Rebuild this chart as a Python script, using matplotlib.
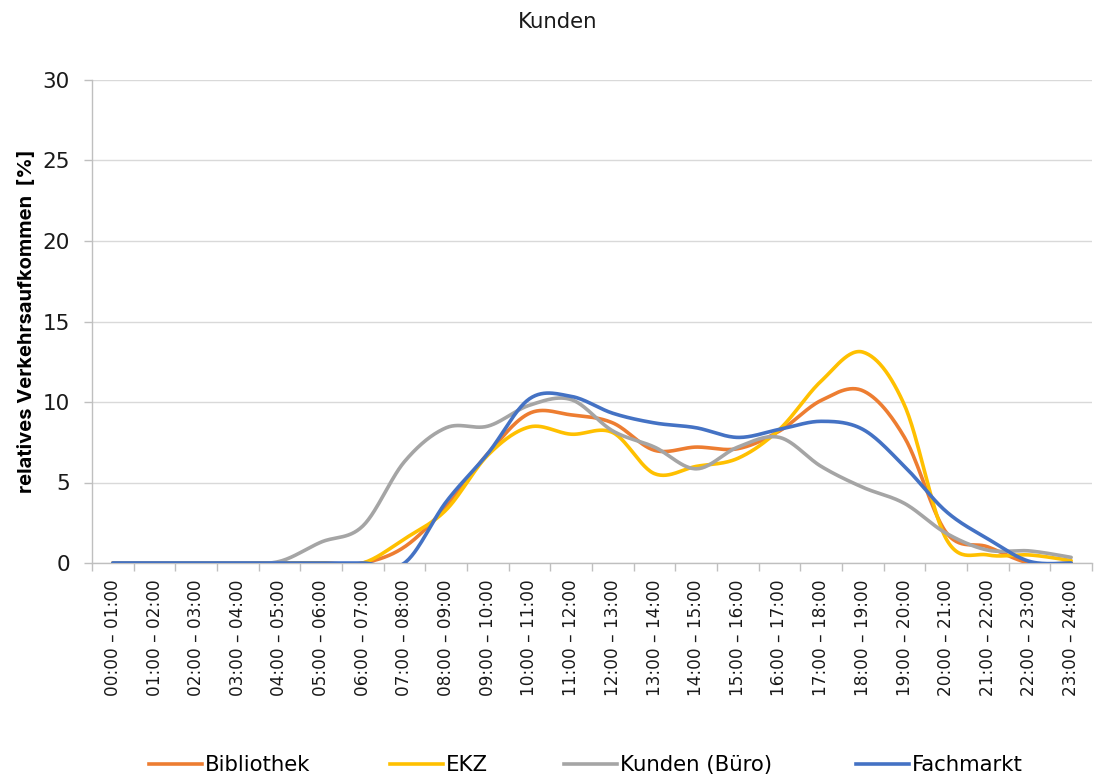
import numpy as np
import matplotlib
matplotlib.use("Agg")
import matplotlib.pyplot as plt
from matplotlib.lines import Line2D

categories = ["00:00 – 01:00", "01:00 – 02:00", "02:00 – 03:00", "03:00 – 04:00",
              "04:00 – 05:00", "05:00 – 06:00", "06:00 – 07:00", "07:00 – 08:00",
              "08:00 – 09:00", "09:00 – 10:00", "10:00 – 11:00", "11:00 – 12:00",
              "12:00 – 13:00", "13:00 – 14:00", "14:00 – 15:00", "15:00 – 16:00",
              "16:00 – 17:00", "17:00 – 18:00", "18:00 – 19:00", "19:00 – 20:00",
              "20:00 – 21:00", "21:00 – 22:00", "22:00 – 23:00", "23:00 – 24:00"]

bibliothek = [0, 0, 0, 0, 0, 0, 0, 1.0, 3.5, 6.8, 9.3, 9.2, 8.7, 7.0, 7.2, 7.1,
              8.2, 10.1, 10.7, 7.8, 1.9, 1.0, 0, 0]
ekz = [0, 0, 0, 0, 0, 0, 0, 1.5, 3.3, 6.7, 8.45, 8.0, 8.1, 5.55, 6.0, 6.5,
       8.3, 11.3, 13.1, 9.8, 1.5, 0.5, 0.5, 0.15]
kunden_buero = [0, 0, 0, 0, 0.1, 1.3, 2.3, 6.3, 8.4, 8.5, 9.8, 10.15, 8.2, 7.2, 5.85, 7.2,
                7.8, 6.0, 4.7, 3.7, 1.85, 0.8, 0.75, 0.35]
fachmarkt = [0, 0, 0, 0, 0, 0, 0, 0, 3.8, 6.8, 10.2, 10.35, 9.3, 8.7, 8.4, 7.8,
             8.3, 8.8, 8.3, 6.0, 3.2, 1.5, 0.1, 0]

series = [("Bibliothek", bibliothek, "#ED7D31"),
          ("EKZ", ekz, "#FFC000"),
          ("Kunden (Büro)", kunden_buero, "#A5A5A5"),
          ("Fachmarkt", fachmarkt, "#4472C4")]


def smooth(xs, ys, n=30):
    """Excel-like smoothed line (Catmull-Rom based cubic Bezier)."""
    xs = np.asarray(xs, float)
    ys = np.asarray(ys, float)
    P = np.column_stack([xs, ys])
    out = []
    t = np.linspace(0, 1, n)
    for i in range(len(P) - 1):
        p0 = P[i - 1] if i > 0 else P[i]
        p1 = P[i]
        p2 = P[i + 1]
        p3 = P[i + 2] if i + 2 < len(P) else P[i + 1]
        c1 = p1 + (p2 - p0) / 6.0
        c2 = p2 - (p3 - p1) / 6.0
        seg = ((1 - t)[:, None] ** 3 * p1 + 3 * (1 - t)[:, None] ** 2 * t[:, None] * c1
               + 3 * (1 - t)[:, None] * t[:, None] ** 2 * c2 + t[:, None] ** 3 * p2)
        out.append(seg if i == 0 else seg[1:])
    arr = np.vstack(out)
    return arr[:, 0], arr[:, 1]


plt.rcParams['font.family'] = ['DejaVu Sans']

fig = plt.figure(figsize=(10.98, 7.78), dpi=100)
ax = fig.add_axes([92 / 1098, 1 - 563 / 778, 1000 / 1098, (563 - 80) / 778])

x = np.arange(len(categories))
for name, vals, col in series:
    sx, sy = smooth(x, vals)
    ax.plot(sx, sy, color=col, lw=2.6, solid_capstyle='round', zorder=3)

ax.set_xlim(-0.5, len(categories) - 0.5)
ax.set_ylim(0, 30)
ax.set_yticks(np.arange(0, 31, 5))
ax.yaxis.grid(True, color="#D9D9D9", lw=1.0)
ax.set_axisbelow(True)

ax.set_xticks(x)
ax.set_xticklabels(categories, rotation=90, fontsize=12.2, color="#1a1a1a")
ax.set_xticks(np.arange(-0.5, len(categories), 1), minor=True)
ax.tick_params(axis='x', which='major', length=0, pad=12)
ax.tick_params(axis='x', which='minor', length=6, color="#BFBFBF", width=1)
ax.tick_params(axis='y', length=6, color="#BFBFBF", width=1, labelsize=15.5, pad=10,
               labelcolor="#1a1a1a")

for s in ['top', 'right']:
    ax.spines[s].set_visible(False)
for s in ['left', 'bottom']:
    ax.spines[s].set_color("#BFBFBF")
    ax.spines[s].set_linewidth(1)

ax.set_ylabel("relatives Verkehrsaufkommen  [%]", fontsize=14.5, fontweight='bold',
              family=['Inter', 'DejaVu Sans'])
ax.yaxis.set_label_coords(-0.056, 0.5)

fig.text(558 / 1098, 1 - 22 / 778, "Kunden", ha='center', va='center', fontsize=15.3,
         color="#1a1a1a")

legend_x = [149, 390, 564, 856]
for (name, _, col), lx in zip(series, legend_x):
    fig.legend([Line2D([0], [0], color=col, lw=2.6)], [name], loc='center left',
               bbox_to_anchor=(lx / 1098, 1 - 765 / 778), frameon=False, fontsize=15.3,
               handlelength=2.5, handletextpad=0.12, borderpad=0, borderaxespad=0)

fig.savefig("out.png", dpi=100)
